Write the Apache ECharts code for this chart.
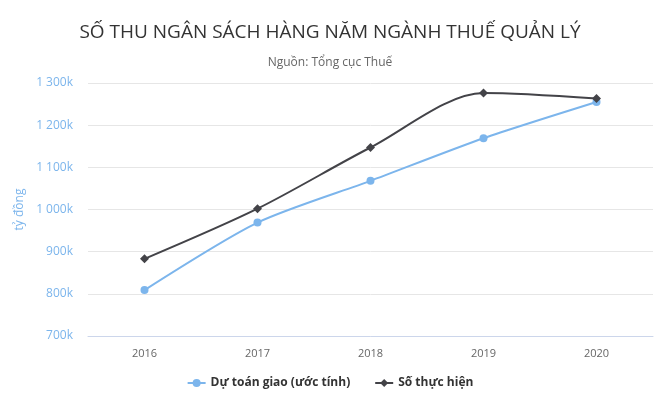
<!DOCTYPE html>
<html><head><meta charset="utf-8">
<script src="https://cdn.jsdelivr.net/npm/echarts@6/dist/echarts.min.js"></script>
<style>html,body{margin:0;padding:0;background:#fff}#c{width:660px;height:420px}</style>
</head><body><div id="c"></div>
<script>
const categories = ['2016','2017','2018','2019','2020'];
const duToan = [809000, 969000, 1068000, 1169000, 1255000];
const thucHien = [883000, 1002000, 1147000, 1276000, 1263000];
const seriesNames = ['Dự toán giao (ước tính)', 'Số thực hiện'];
const titleText = 'SỐ THU NGÂN SÁCH HÀNG NĂM NGÀNH THUẾ QUẢN LÝ';
const subtitleText = 'Nguồn: Tổng cục Thuế';
const yName = 'tỷ đồng';

const chart = echarts.init(document.getElementById('c'));
const font = '"Open Sans", "Noto Sans", sans-serif';
function fmt(v){
  const k = Math.round(v/1000);
  return String(k).replace(/\B(?=(\d{3})+(?!\d))/g, ' ') + 'k';
}
chart.setOption({
  animation: false,
  textStyle: {fontFamily: font},
  title: {
    text: titleText, subtext: subtitleText, left: 'center', top: 18, itemGap: 15,
    textStyle: {fontSize: 19, fontWeight: 'normal', color: '#333333', fontFamily: font},
    subtextStyle: {fontSize: 12, color: '#666666', fontFamily: font}
  },
  legend: {
    bottom: 26, left: 'center', itemGap: 24, itemWidth: 18, itemHeight: 10,
    textStyle: {fontSize: 12, fontWeight: 'bold', color: '#333333', fontFamily: font},
    data: seriesNames
  },
  grid: {left: 88, right: 7, top: 83, bottom: 84},
  xAxis: {
    type: 'category', data: categories, boundaryGap: true,
    axisLine: {lineStyle: {color: '#ccd6eb'}},
    axisTick: {show: false},
    axisLabel: {color: '#666666', fontSize: 11, margin: 12}
  },
  yAxis: {
    type: 'value', min: 700000, max: 1300000, interval: 100000,
    name: yName, nameLocation: 'middle', nameGap: 61, nameRotate: 90,
    nameTextStyle: {color: '#7cb5ec', fontSize: 12},
    axisLine: {show: false}, axisTick: {show: false},
    axisLabel: {color: '#7cb5ec', fontSize: 12, formatter: fmt, margin: 15},
    splitLine: {lineStyle: {color: '#e6e6e6'}}
  },
  series: [
    {name: seriesNames[0], type: 'line', data: duToan, smooth: 0.25,
     symbol: 'circle', symbolSize: 8,
     itemStyle: {color: '#7cb5ec'}, lineStyle: {width: 2, color: '#7cb5ec'}},
    {name: seriesNames[1], type: 'line', data: thucHien, smooth: 0.3,
     symbol: 'diamond', symbolSize: 9,
     itemStyle: {color: '#434348'}, lineStyle: {width: 2, color: '#434348'}}
  ]
});
</script></body></html>
